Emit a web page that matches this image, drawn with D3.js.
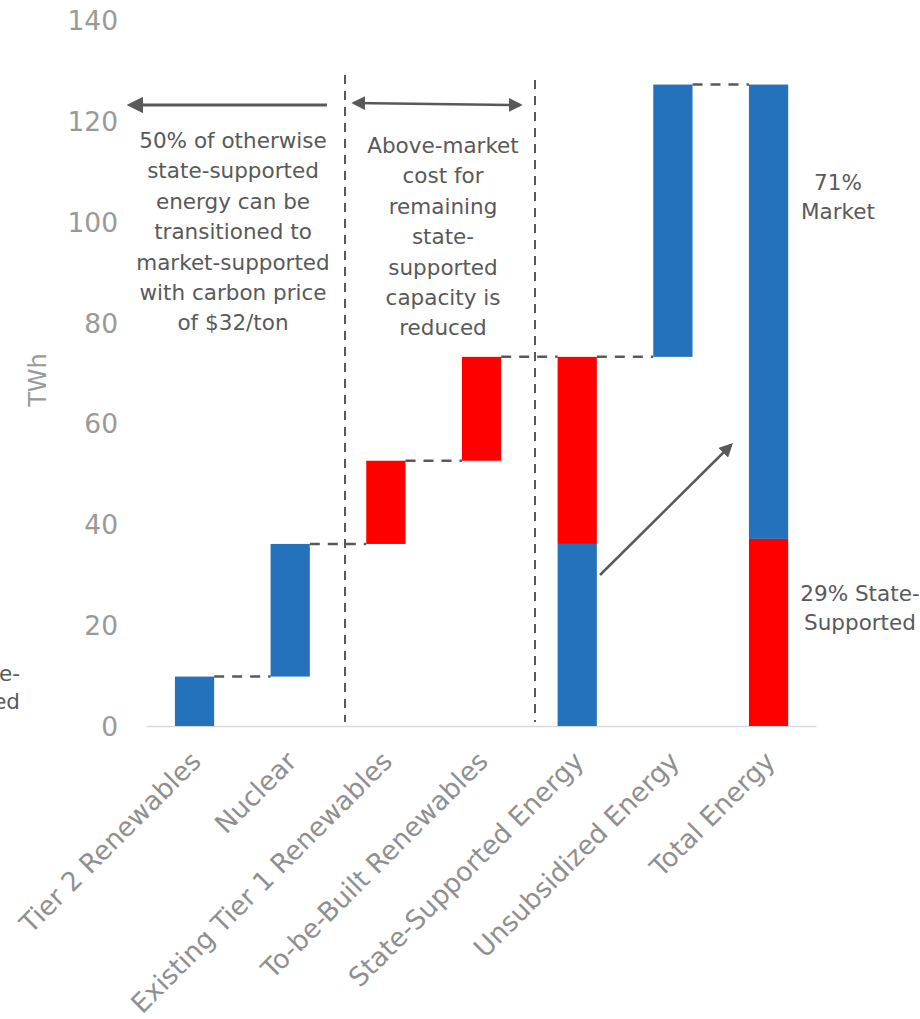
<!DOCTYPE html>
<html><head><meta charset="utf-8">
<script src="https://cdn.jsdelivr.net/npm/d3@7"></script>
<style>body{margin:0;background:#fff}svg{display:block}</style>
</head><body>
<svg id="c" width="920" height="1019"></svg>
<script>
const categories = ["Tier 2 Renewables","Nuclear","Existing Tier 1 Renewables","To-be-Built Renewables","State-Supported Energy","Unsubsidized Energy","Total Energy"];
// blue segment [start, end] per category (null = none)
const blueStart = [0, 9.8, null, null, 0, 73.2, 37.1];
const blueEnd   = [9.8, 36.1, null, null, 36.1, 127.2, 127.2];
// red segment [start, end]
const redStart = [null, null, 36.1, 52.6, 36.1, null, 0];
const redEnd   = [null, null, 52.6, 73.2, 73.2, null, 37.1];
// connectors between bar i and i+1 at level
const connLevel = [9.8, 36.1, 52.6, 73.2, 73.2, 127.2];
const yTicks = [0,20,40,60,80,100,120,140];

const svg = d3.select("#c");
const font = "'DejaVu Sans', sans-serif";
const y = d3.scaleLinear().domain([0,140]).range([726,20]);
const x = d3.scaleBand().domain(categories).range([146.7,816.4]).paddingInner(0.59).paddingOuter(0.295);
const bw = x.bandwidth();

// axis line
svg.append("line").attr("x1",146.7).attr("x2",816.4).attr("y1",y(0)+0.5).attr("y2",y(0)+0.5).attr("stroke","#d9d9d9").attr("stroke-width",1.5);

// y tick labels
const yAxis = d3.axisLeft(y).tickValues(yTicks).tickSize(0).tickPadding(0);
const ga = svg.append("g").attr("transform","translate(118,0)").call(yAxis);
ga.select(".domain").remove();
ga.selectAll("text").attr("font-family",font).attr("font-size",26.5).attr("fill","#999999").attr("dy","0.36em");

// y title
svg.append("text").attr("transform","translate(46,380) rotate(-90)").attr("text-anchor","middle")
  .attr("font-family",font).attr("font-size",24).attr("fill","#999999").text("TWh");

// bars
const blue = "#2372BB", red = "#FF0000";
categories.forEach((c,i)=>{
  if(blueStart[i]!==null) svg.append("rect").attr("x",x(c)).attr("width",bw).attr("y",y(blueEnd[i])).attr("height",y(blueStart[i])-y(blueEnd[i])).attr("fill",blue);
  if(redStart[i]!==null) svg.append("rect").attr("x",x(c)).attr("width",bw).attr("y",y(redEnd[i])).attr("height",y(redStart[i])-y(redEnd[i])).attr("fill",red);
});

// connectors
connLevel.forEach((v,i)=>{
  svg.append("line").attr("x1",x(categories[i])+bw).attr("x2",x(categories[i+1]))
    .attr("y1",y(v)).attr("y2",y(v)).attr("stroke","#595959").attr("stroke-width",2.5).attr("stroke-dasharray","10,8");
});

// vertical dashed separators
[[345,75],[535,80]].forEach(([xx,top])=>{
  svg.append("line").attr("x1",xx).attr("x2",xx).attr("y1",top).attr("y2",722).attr("stroke","#595959").attr("stroke-width",2).attr("stroke-dasharray","9,7");
});

// arrow markers
const defs = svg.append("defs");
defs.append("marker").attr("id","ah").attr("viewBox","0 0 10 10").attr("refX",8).attr("refY",5)
  .attr("markerWidth",5.5).attr("markerHeight",5.5).attr("orient","auto-start-reverse").attr("markerUnits","strokeWidth")
  .append("path").attr("d","M0,0 L10,5 L0,10 z").attr("fill","#595959");

svg.append("line").attr("x1",327).attr("y1",105).attr("x2",130).attr("y2",105).attr("stroke","#595959").attr("stroke-width",3).attr("marker-end","url(#ah)");
svg.append("line").attr("x1",354).attr("y1",103).attr("x2",520).attr("y2",105).attr("stroke","#595959").attr("stroke-width",2.5).attr("marker-end","url(#ah)").attr("marker-start","url(#ah)");
svg.append("line").attr("x1",600).attr("y1",575).attr("x2",731).attr("y2",445).attr("stroke","#595959").attr("stroke-width",2.5).attr("marker-end","url(#ah)");

// annotation text
function block(lines, cx, y0, lh, anchor, fs){
  const t = svg.append("text").attr("font-family",font).attr("font-size",fs||21.5).attr("fill","#595959").attr("text-anchor",anchor||"middle");
  lines.forEach((l,k)=>t.append("tspan").attr("x",cx).attr("y",y0+k*lh).text(l));
}
block(["50% of otherwise","state-supported","energy can be","transitioned to","market-supported","with carbon price","of $32/ton"],233,148,30.4);
block(["Above-market","cost for","remaining","state-","supported","capacity is","reduced"],443,153,30.4);
block(["71%","Market"],838,190,29);
block(["29% State-","Supported"],860,601,29);
block(["e-","ed"],20,681,28,"end");

// x labels
categories.forEach(c=>{
  svg.append("text").attr("font-family",font).attr("font-size",26.5).attr("fill","#8f8f8f").attr("text-anchor","end")
    .attr("transform",`translate(${x(c)+bw/2+8},${763}) rotate(-45)`).text(c);
});
</script>
</body></html>
